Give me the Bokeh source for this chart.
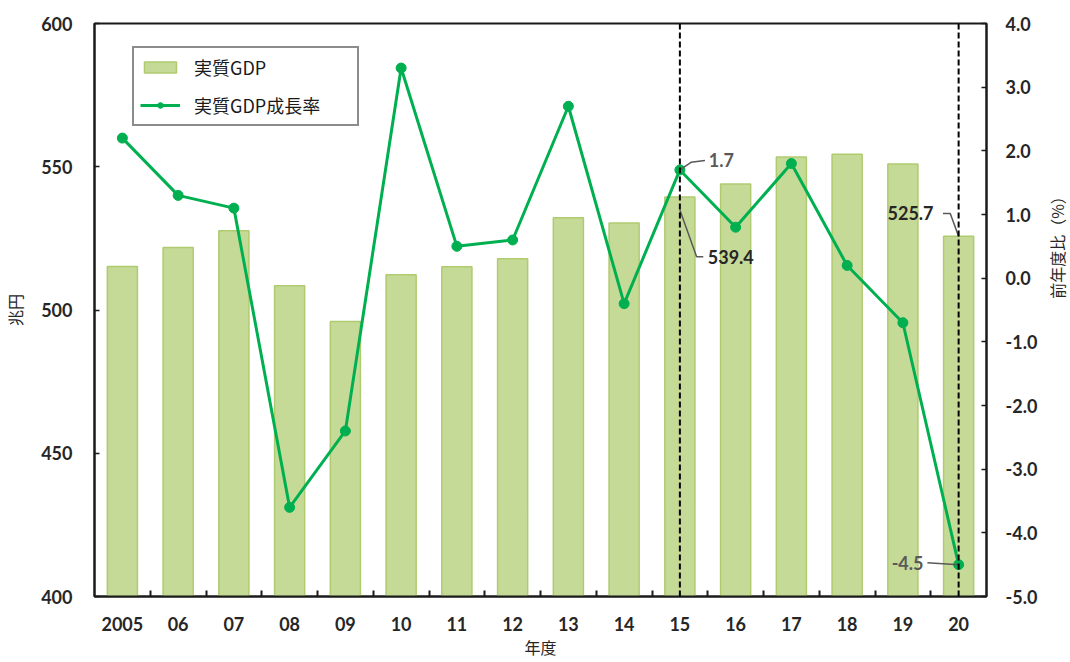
import math
from bokeh.plotting import figure
from bokeh.layouts import row
from bokeh.models import (Range1d, LinearAxis, FixedTicker, NumeralTickFormatter,
                          Span, Legend, LegendItem, Label)
from bokeh.core.properties import value
from bokeh.embed import file_html
from bokeh.resources import INLINE

# ---- data ----
years = ["2005", "06", "07", "08", "09", "10", "11", "12", "13", "14",
         "15", "16", "17", "18", "19", "20"]
gdp = [515.2, 521.8, 527.7, 508.5, 496.0, 512.3, 515.1, 517.9, 532.2, 530.4,
       539.4, 544.0, 553.4, 554.4, 551.0, 525.7]
growth = [2.2, 1.3, 1.1, -3.6, -2.4, 3.3, 0.5, 0.6, 2.7, -0.4,
          1.7, 0.8, 1.8, 0.2, -0.7, -4.5]
gdp_ticks = [400, 450, 500, 550, 600]
pct_ticks = [-5.0, -4.0, -3.0, -2.0, -1.0, 0.0, 1.0, 2.0, 3.0, 4.0]
marked_years = ["15", "20"]

NUM_FONT = value("Lato")
JP = "Noto Sans CJK JP"

W_TITLE = 24
W, H = 1070 - W_TITLE, 661
BL, BT = 93, 23
FRAME_BOTTOM = 598
FRAME_RIGHT = 986
xs = [i + 0.5 for i in range(len(years))]

p = figure(width=W, height=H, output_backend="svg", toolbar_location=None,
           x_range=Range1d(0, len(years)), y_range=Range1d(gdp_ticks[0], gdp_ticks[-1]),
           min_border_left=BL, min_border_right=W - FRAME_RIGHT, min_border_top=BT,
           min_border_bottom=H - FRAME_BOTTOM)
p.extra_y_ranges = {"pct": Range1d(pct_ticks[0], pct_ticks[-1])}
p.xgrid.visible = False
p.ygrid.visible = False
p.outline_line_color = "#1a1a1a"
p.outline_line_width = 2
p.background_fill_color = "white"
p.border_fill_color = "white"

# bars
bars = p.vbar(x=xs, top=gdp, bottom=gdp_ticks[0], width=0.54,
              fill_color="#C6DA98", line_color="#AFCB70", line_width=1.5)

# growth line
ln = p.line(xs, growth, y_range_name="pct", line_color="#00B050", line_width=3)
sc = p.scatter(xs, growth, y_range_name="pct", size=10, fill_color="#00B050",
               line_color="#00B050")

def style_title(ax, size="16px"):
    ax.axis_label_text_font = JP
    ax.axis_label_text_font_style = "normal"
    ax.axis_label_text_font_size = size
    ax.axis_label_text_color = "#262626"

# x axis
xa = p.xaxis[0]
xa.ticker = FixedTicker(ticks=xs, minor_ticks=list(range(1, len(years))))
xa.major_label_overrides = {x: y for x, y in zip(xs, years)}
xa.major_tick_in = 0
xa.major_tick_out = 0
xa.minor_tick_in = 6
xa.minor_tick_out = 0
xa.minor_tick_line_color = "#1a1a1a"
xa.minor_tick_line_width = 2
xa.axis_line_color = "#1a1a1a"
xa.axis_line_width = 2
xa.major_label_text_font = "Lato"
xa.major_label_text_font_style = "bold"
xa.major_label_text_font_size = "18px"
xa.major_label_text_color = "#262626"
xa.major_label_standoff = 20
xa.axis_label = "年度"
xa.axis_label_standoff = 1
style_title(xa)

# left axis
ya = p.yaxis[0]
ya.ticker = FixedTicker(ticks=gdp_ticks)
ya.major_tick_in = 5
ya.major_tick_out = 0
ya.minor_tick_line_color = None
ya.major_tick_line_color = "#1a1a1a"
ya.major_tick_line_width = 1.5
ya.axis_line_color = "#1a1a1a"
ya.axis_line_width = 2
ya.major_label_text_font = "Lato"
ya.major_label_text_font_style = "bold"
ya.major_label_text_font_size = "18px"
ya.major_label_text_color = "#262626"
ya.major_label_standoff = 22
ya.axis_label = "兆円"
ya.axis_label_standoff = 11
style_title(ya)

# right axis
ra = LinearAxis(y_range_name="pct", ticker=FixedTicker(ticks=pct_ticks),
                formatter=NumeralTickFormatter(format="0.0"))
ra.major_tick_in = 5
ra.major_tick_out = 0
ra.minor_tick_line_color = None
ra.major_tick_line_color = "#1a1a1a"
ra.major_tick_line_width = 1.5
ra.axis_line_color = "#1a1a1a"
ra.axis_line_width = 2
ra.major_label_text_font = "Lato"
ra.major_label_text_font_style = "bold"
ra.major_label_text_font_size = "18px"
ra.major_label_text_color = "#262626"
ra.major_label_standoff = 19
p.add_layout(ra, "right")

# dashed markers
for yr in marked_years:
    p.add_layout(Span(location=xs[years.index(yr)], dimension="height",
                      line_color="black", line_width=2, line_dash="6 3"))

# annotations
i15 = years.index("15")
i20 = years.index("20")
x15, x20 = xs[i15], xs[i20]
g15, v15 = growth[i15], gdp[i15]
g20, v20 = growth[i20], gdp[i20]

lead = dict(line_color="#595959", line_width=1.5)
# 1.7
p.line([x15, x15 + 0.2, x15 + 0.45], [g15, g15 + 0.12, g15 + 0.15], y_range_name="pct", **lead)
p.text([x15 + 0.52], [g15 + 0.15], text=[f"{g15:.1f}"], y_range_name="pct",
       text_font=NUM_FONT, text_font_style="bold", text_font_size="18px",
       text_color="#595959", text_align="left", text_baseline="middle")
# 539.4
p.line([x15, x15 + 0.3, x15 + 0.42], [v15 - 4.5, v15 - 20.8, v15 - 20.8], **lead)
p.text([x15 + 0.5], [v15 - 21.0], text=[f"{v15:.1f}"],
       text_font=NUM_FONT, text_font_style="bold", text_font_size="18px",
       text_color="#262626", text_align="left", text_baseline="middle")
# 525.7
p.line([x20, x20 - 0.15, x20 - 0.28], [v20, v20 + 8.0, v20 + 8.0], **lead)
p.text([x20 - 0.45], [v20 + 8.2], text=[f"{v20:.1f}"],
       text_font=NUM_FONT, text_font_style="bold", text_font_size="18px",
       text_color="#262626", text_align="right", text_baseline="middle")
# -4.5
p.line([x20 - 0.56, x20], [g20 + 0.03, g20], y_range_name="pct", **lead)
p.text([x20 - 0.63], [g20 + 0.03], text=[f"{g20:.1f}"], y_range_name="pct",
       text_font=NUM_FONT, text_font_style="bold", text_font_size="18px",
       text_color="#595959", text_align="right", text_baseline="middle")

# legend
legend = Legend(items=[LegendItem(label="実質GDP", renderers=[bars]),
                       LegendItem(label="実質GDP成長率", renderers=[ln, sc])],
                location=(38, 470), border_line_color="#1a1a1a", border_line_width=2,
                label_text_font=JP, label_text_font_size="18px",
                label_text_color="#1a1a1a", padding=6, spacing=12,
                glyph_width=40, glyph_height=14, label_height=18, label_width=157,
                label_standoff=14, background_fill_alpha=1.0, margin=0)
p.add_layout(legend)

# narrow strip holding the right-axis title (reads bottom-to-top)
t = figure(width=W_TITLE, height=H, output_backend="svg", toolbar_location=None,
           min_border=0, x_axis_type=None, y_axis_type=None,
           x_range=Range1d(0, 1), y_range=Range1d(0, 1))
t.outline_line_color = None
t.xgrid.visible = False
t.ygrid.visible = False
t.add_layout(Label(x=W_TITLE / 2 - 2, y=H - 308, x_units="screen", y_units="screen",
                   text="前年度比（%）", angle=math.pi / 2, text_align="center",
                   text_baseline="middle", text_font=JP, text_font_size="16px",
                   text_color="#262626"))

layout = row(p, t)
open("out.html", "w").write(file_html(layout, INLINE))
